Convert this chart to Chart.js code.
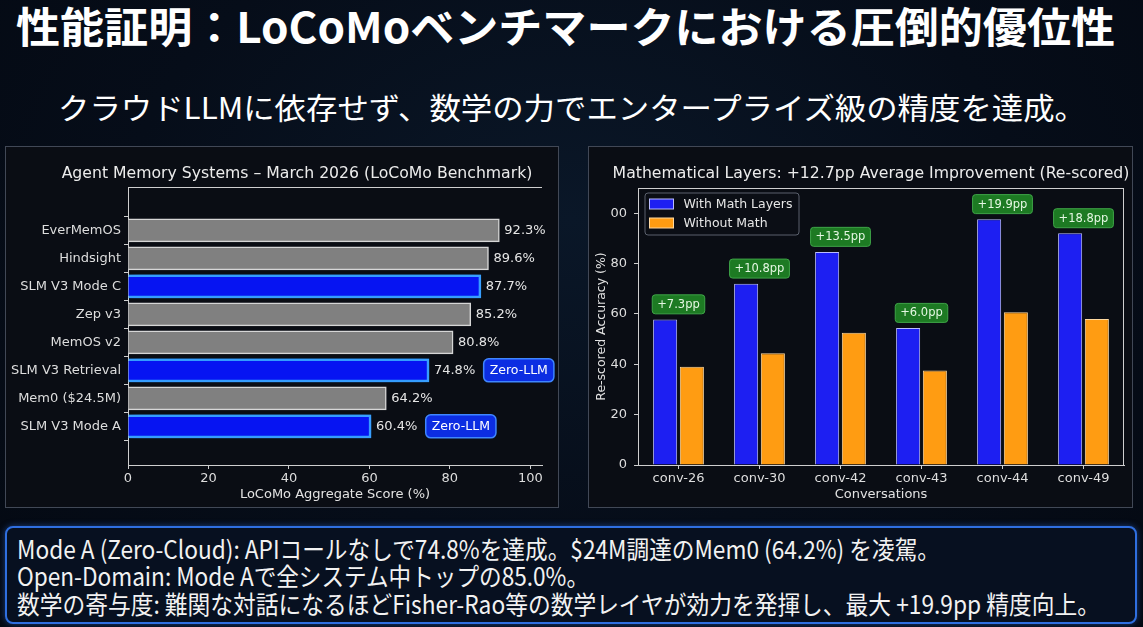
<!DOCTYPE html>
<html>
<head>
<meta charset="utf-8">
<script src="https://cdn.jsdelivr.net/npm/chart.js@4.4.1/dist/chart.umd.min.js"></script>
<style>
html, body { margin: 0; padding: 0; width: 1143px; height: 627px; overflow: hidden; }
body {
  position: relative;
  background: radial-gradient(ellipse at 50% 35%, #0a1728 0%, #060d19 55%, #040912 100%);
  font-family: "Noto Sans CJK JP", "Noto Sans", sans-serif;
  color: #fff;
}
.txt { position: absolute; white-space: nowrap; transform-origin: 0 50%; }
#title { left: 16px; top: 0px; font-size: 42px; line-height: 50px; font-weight: 700; }
#sub { left: 58px; top: 86px; font-size: 30px; line-height: 40px; }
.panel { position: absolute; background: #0a0d14; border: 1px solid #414856; box-sizing: border-box; }
#p1 { left: 5px; top: 146px; width: 554px; height: 362px; }
#p2 { left: 588px; top: 146px; width: 545px; height: 362px; }
canvas { position: absolute; }
#c1 { left: 5px; top: 146px; }
#c2 { left: 588px; top: 146px; }
#note { position: absolute; left: 5px; top: 526px; width: 1132px; height: 98px; box-sizing: border-box;
  border: 2px solid #2f6fe0; border-radius: 8px; background: #071020;
  box-shadow: 0 0 6px rgba(47,111,224,0.5); }
.line { font-size: 25px; line-height: 28px; color: #f2f2f2; left: 17px; }
</style>
</head>
<body>
<div id="title" class="txt" data-w="1099">性能証明：LoCoMoベンチマークにおける圧倒的優位性</div>
<div id="sub" class="txt" data-w="1028">クラウドLLMに依存せず、数学の力でエンタープライズ級の精度を達成。</div>

<div id="p1" class="panel"></div>
<div id="p2" class="panel"></div>
<canvas id="c1" width="554" height="362"></canvas>
<canvas id="c2" width="545" height="362"></canvas>

<div id="note"></div>
<div class="txt line" style="top:534px" data-w="923">Mode A (Zero-Cloud): APIコールなしで74.8%を達成。$24M調達のMem0 (64.2%) を凌駕。</div>
<div class="txt line" style="top:561px" data-w="572">Open-Domain: Mode Aで全システム中トップの85.0%。</div>
<div class="txt line" style="top:589px" data-w="1083">数学の寄与度: 難関な対話になるほどFisher-Rao等の数学レイヤが効力を発揮し、最大 +19.9pp 精度向上。</div>

<script>
// left chart data
const systems = ['EverMemOS', 'Hindsight', 'SLM V3 Mode C', 'Zep v3', 'MemOS v2', 'SLM V3 Retrieval', 'Mem0 ($24.5M)', 'SLM V3 Mode A'];
const scores = [92.3, 89.6, 87.7, 85.2, 80.8, 74.8, 64.2, 60.4];
const isSLM = [false, false, true, false, false, true, false, true];
const zeroLLM = [false, false, false, false, false, true, false, true];
const scoreTicks = [0, 20, 40, 60, 80, 100];

// right chart data
const convs = ['conv-26', 'conv-30', 'conv-42', 'conv-43', 'conv-44', 'conv-49'];
const withMath = [57.8, 72.0, 84.6, 54.4, 97.6, 92.0];
const withoutMath = [39.0, 44.4, 52.5, 37.5, 60.7, 58.0];
const gains = ['+7.3pp', '+10.8pp', '+13.5pp', '+6.0pp', '+19.9pp', '+18.8pp'];
const accTicks = [0, 20, 40, 60, 80, 100];
const accTickLabels = ['0', '20', '40', '60', '80', '00'];

// squeeze the slide texts to their widths
document.querySelectorAll('.txt').forEach(function (el) {
  var w = +el.dataset.w;
  var nat = el.getBoundingClientRect().width;
  el.style.transform = 'scaleX(' + (w / nat) + ')';
});

Chart.defaults.font.family = 'DejaVu Sans';
Chart.defaults.font.size = 13;
Chart.defaults.color = '#dedede';

var axisCol = '#cfcfcf';

var frame = {
  id: 'frame',
  afterDraw: function (chart, args, o) {
    var ctx = chart.ctx, a = chart.chartArea;
    ctx.save();
    ctx.strokeStyle = axisCol;
    ctx.lineWidth = 1;
    ctx.beginPath();
    if (o.top) { ctx.moveTo(a.left, a.top + 0.5); ctx.lineTo(a.right, a.top + 0.5); }
    if (o.right) { ctx.moveTo(a.right - 0.5, a.top); ctx.lineTo(a.right - 0.5, a.bottom); }
    ctx.stroke();
    ctx.restore();
  }
};

var panelTitle = {
  id: 'panelTitle',
  afterDraw: function (chart, args, o) {
    var ctx = chart.ctx;
    ctx.save();
    ctx.font = '15.7px "DejaVu Sans"';
    ctx.fillStyle = '#ececec';
    ctx.textAlign = 'center';
    ctx.textBaseline = 'middle';
    ctx.fillText(o.text, o.x, o.y);
    ctx.restore();
  }
};

// ---------- left: horizontal bars ----------
var ptsOther = [], ptsSLM = [];
systems.forEach(function (s, i) {
  (isSLM[i] ? ptsSLM : ptsOther).push({ x: scores[i], y: i });
});

var glow = {
  id: 'glow',
  beforeDatasetDraw: function (chart, args) {
    if (args.index !== 1) return;
    chart.ctx.save();
    chart.ctx.shadowColor = 'rgba(40,150,255,1)';
    chart.ctx.shadowBlur = 12;
  },
  afterDatasetDraw: function (chart, args) {
    if (args.index !== 1) return;
    chart.ctx.restore();
  }
};

var barLabels = {
  id: 'barLabels',
  afterDatasetsDraw: function (chart) {
    var ctx = chart.ctx, x = chart.scales.x, y = chart.scales.y;
    ctx.save();
    ctx.font = '13px "DejaVu Sans"';
    ctx.textBaseline = 'middle';
    ctx.textAlign = 'left';
    scores.forEach(function (v, i) {
      var px = x.getPixelForValue(v), py = y.getPixelForValue(i);
      ctx.fillStyle = '#e6e6e6';
      ctx.fillText(v.toFixed(1) + '%', px + 5, py + 0.5);
      if (zeroLLM[i]) {
        var bx = x.getPixelForValue(v + 13.6);
        ctx.font = '12.5px "DejaVu Sans"';
        var tw = ctx.measureText('Zero-LLM').width;
        ctx.beginPath();
        ctx.roundRect(bx, py - 11.5, tw + 12, 23, 5);
        ctx.fillStyle = '#0c2de2';
        ctx.fill();
        ctx.strokeStyle = '#3f86ff';
        ctx.lineWidth = 1.5;
        ctx.stroke();
        ctx.fillStyle = '#ffffff';
        ctx.fillText('Zero-LLM', bx + 6, py + 0.5);
        ctx.font = '13px "DejaVu Sans"';
      }
    });
    ctx.restore();
  }
};

new Chart(document.getElementById('c1'), {
  type: 'bar',
  data: {
    datasets: [
      { label: 'Others', data: ptsOther, backgroundColor: '#808080', borderColor: '#d6d6d6',
        borderWidth: 1.5, barThickness: 23, grouped: false },
      { label: 'SLM V3', data: ptsSLM, backgroundColor: '#0614f2', borderColor: '#3fa2ff',
        borderWidth: 2.5, barThickness: 23, grouped: false }
    ]
  },
  options: {
    indexAxis: 'y',
    responsive: false,
    animation: false,
    layout: { padding: { left: 0, right: 17, top: 41, bottom: 0 } },
    plugins: {
      legend: { display: false },
      tooltip: { enabled: false },
      frame: { top: true, right: false },
      panelTitle: { text: 'Agent Memory Systems – March 2026 (LoCoMo Benchmark)', x: 292, y: 28 }
    },
    scales: {
      x: {
        type: 'linear', min: 0, max: 102.9,
        afterBuildTicks: function (s) { s.ticks = scoreTicks.map(function (v) { return { value: v }; }); },
        afterFit: function (s) { s.height = 43; },
        ticks: { padding: 2, color: '#dedede' },
        grid: { drawOnChartArea: false, drawTicks: true, tickLength: 4, color: axisCol },
        border: { color: axisCol, width: 1 },
        title: { display: true, text: 'LoCoMo Aggregate Score (%)', color: '#e2e2e2',
                 font: { size: 13 }, padding: { top: 0, bottom: 6 } }
      },
      y: {
        type: 'linear', min: -0.93, max: 7.76, reverse: true,
        afterBuildTicks: function (s) { s.ticks = systems.map(function (n, i) { return { value: i }; }); },
        afterFit: function (s) { s.width = 123; },
        ticks: { autoSkip: false, padding: 3, color: '#dedede',
                 callback: function (v) { return systems[v]; } },
        grid: { drawOnChartArea: false, drawTicks: true, tickLength: 4, color: axisCol },
        border: { color: axisCol, width: 1 }
      }
    }
  },
  plugins: [glow, barLabels, frame, panelTitle]
});

// ---------- right: grouped bars ----------
var gainBoxes = {
  id: 'gainBoxes',
  afterDatasetsDraw: function (chart) {
    var ctx = chart.ctx, x = chart.scales.x, y = chart.scales.y;
    ctx.save();
    ctx.font = '11.5px "DejaVu Sans"';
    ctx.textAlign = 'center';
    ctx.textBaseline = 'middle';
    gains.forEach(function (g, i) {
      var cx = x.getPixelForValue(i), cy = y.getPixelForValue(withMath[i] + 6);
      var w = ctx.measureText(g).width + 10;
      ctx.beginPath();
      ctx.roundRect(cx - w / 2, cy - 9.5, w, 19, 3);
      ctx.fillStyle = '#1d7a23';
      ctx.fill();
      ctx.strokeStyle = '#3fa548';
      ctx.lineWidth = 1;
      ctx.stroke();
      ctx.fillStyle = '#e4f7e2';
      ctx.fillText(g, cx, cy + 0.5);
    });
    ctx.restore();
  }
};

var boxLegend = {
  id: 'boxLegend',
  afterDraw: function (chart) {
    var ctx = chart.ctx, a = chart.chartArea;
    var bx = a.left + 7, by = a.top + 5;
    ctx.save();
    ctx.beginPath();
    ctx.roundRect(bx, by, 154, 42, 3);
    ctx.fillStyle = 'rgba(11,14,21,0.9)';
    ctx.fill();
    ctx.strokeStyle = '#5b616d';
    ctx.lineWidth = 1;
    ctx.stroke();
    ctx.font = '12.5px "DejaVu Sans"';
    ctx.textBaseline = 'middle';
    ctx.textAlign = 'left';
    chart.data.datasets.forEach(function (ds, i) {
      var cy = by + 11 + i * 19;
      ctx.fillStyle = ds.backgroundColor;
      ctx.fillRect(bx + 4.5, cy - 5, 24, 10);
      ctx.strokeStyle = ds.borderColor;
      ctx.strokeRect(bx + 4.5, cy - 5, 24, 10);
      ctx.fillStyle = '#e6e6e6';
      ctx.fillText(ds.label, bx + 38.5, cy + 0.5);
    });
    ctx.restore();
  }
};

new Chart(document.getElementById('c2'), {
  type: 'bar',
  data: {
    labels: convs,
    datasets: [
      { label: 'With Math Layers', data: withMath, backgroundColor: '#1d1ff2', borderColor: '#b9bcff',
        borderWidth: 1, categoryPercentage: 0.66, barPercentage: 0.9 },
      { label: 'Without Math', data: withoutMath, backgroundColor: '#ff9c12', borderColor: '#ffd9a0',
        borderWidth: 1, categoryPercentage: 0.66, barPercentage: 0.9 }
    ]
  },
  options: {
    responsive: false,
    animation: false,
    layout: { padding: { left: 0, right: 9, top: 42, bottom: 0 } },
    plugins: {
      legend: { display: false },
      tooltip: { enabled: false },
      frame: { top: true, right: true },
      panelTitle: { text: 'Mathematical Layers: +12.7pp Average Improvement (Re-scored)', x: 283, y: 28 }
    },
    scales: {
      x: {
        afterFit: function (s) { s.height = 43; },
        ticks: { padding: 2, color: '#dedede' },
        grid: { offset: false, drawOnChartArea: false, drawTicks: true, tickLength: 4, color: axisCol },
        border: { color: axisCol, width: 1 },
        title: { display: true, text: 'Conversations', color: '#e2e2e2',
                 font: { size: 13 }, padding: { top: 0, bottom: 6 } }
      },
      y: {
        min: 0, max: 110,
        afterBuildTicks: function (s) { s.ticks = accTicks.map(function (v) { return { value: v }; }); },
        afterFit: function (s) { s.width = 50; },
        ticks: { padding: 7, color: '#dedede',
                 callback: function (v) { return accTickLabels[accTicks.indexOf(v)]; } },
        grid: { drawOnChartArea: false, drawTicks: true, tickLength: 4, color: axisCol },
        border: { color: axisCol, width: 1 },
        title: { display: true, text: 'Re-scored Accuracy (%)', color: '#e2e2e2',
                 font: { size: 12.5 }, padding: { top: 6.5, bottom: 0 } }
      }
    }
  },
  plugins: [gainBoxes, boxLegend, frame, panelTitle]
});
</script>
</body>
</html>
